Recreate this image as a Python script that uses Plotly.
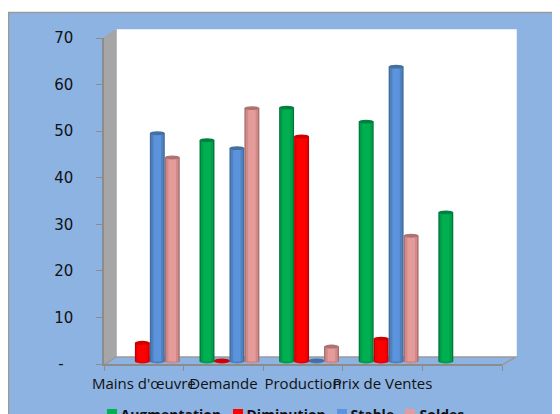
import plotly.graph_objects as go

# Values
categories = ["Mains d'œuvre", "Demande", "Production", "Prix de Ventes", ""]
augmentation = [None, 47.5, 54.5, 51.5, 32.0]
diminution = [4.0, 0.2, 48.3, 4.9, None]
stable = [49.0, 45.8, 0.2, 63.3, None]
soldes = [43.8, 54.4, 3.2, 27.0, None]
y_ticks = [0, 10, 20, 30, 40, 50, 60, 70]
y_tick_labels = ["-\u00a0\u00a0", "10", "20", "30", "40", "50", "60", "70"]

# the page body adds 8px around the figure, so coordinates below are window pixels
OFFSET = 8
W, H = 560 - OFFSET, 414 - OFFSET
# plot area in window pixels
L, R, T, B = 104, 502, 38, 364

FRAME = "#8DB3E2"
WALL_SIDE = "#A6A6A6"
AXIS_LINE = "#8C8C8C"
TEXT = "#111111"

# name, values, colors from the cylinder edge to its centre, cap color,
# legend left edge, legend square left edge
series = [
    ("Augmentation", augmentation, ["#007A3A", "#00A04A", "#00B050"], "#008040", 90.5, 107),
    ("Diminution", diminution, ["#C00000", "#F00000", "#FF0000"], "#D00000", 216.5, 233),
    ("Stable", stable, ["#3F6CA3", "#4F81BD", "#5B93DC"], "#44709F", 320.5, 337),
    ("Soldes", soldes, ["#A86F6F", "#D08A8A", "#E69B9B"], "#AD7272", 389.5, 405),
]

BAR_W = 0.188
GROUP_START = 0.2
FLOOR = 0.55  # bars stand a little behind the front axis line
CAP = 0.42


def px(x):
    return (x - L) / (R - L)


def py(y):
    return (B - y) / (B - T)


def poly(points, fill, line=None):
    path = "M " + " L ".join(f"{px(x):.4f},{py(y):.4f}" for x, y in points) + " Z"
    return dict(type="path", xref="paper", yref="paper", path=path, fillcolor=fill,
                line=dict(color=line or fill, width=1.5), layer="below")


fig = go.Figure()
shapes = [
    # frame
    dict(type="rect", xref="paper", yref="paper", x0=px(8.5), x1=px(570), y0=py(12.5), y1=py(424),
         fillcolor=FRAME, line=dict(color="#9A9A9A", width=1.5), layer="below"),
    # back wall, side wall and floor of the fake 3D box
    poly([(116, 30), (516, 30), (516, 357), (116, 357)], "#FFFFFF"),
    poly([(104, 38), (116, 30), (116, 357), (104, 365)], WALL_SIDE),
    poly([(104, 365), (116, 357), (516, 357), (502, 365)], FRAME, "#9A9A9A"),
]

legends = {}
for j, (name, values, shades, cap, legend_x, square_x) in enumerate(series):
    # one small legend per series, the entries are not evenly spaced in the reference
    legend_id = "legend" if j == 0 else f"legend{j + 1}"
    legends[legend_id] = dict(
        orientation="h",
        xanchor="left",
        x=px(legend_x),
        yanchor="top",
        y=py(399),
        indentation=-10,
        bgcolor="rgba(0,0,0,0)",
        font=dict(family="Open Sans", size=14, color=TEXT, weight="bold"),
    )
    # plotly keeps its legend symbol too far from the text, so the entry gets a
    # clear symbol and the coloured square is a shape
    fig.add_trace(go.Bar(
        x=[None], y=[None], name=name, legend=legend_id,
        marker=dict(color="rgba(0,0,0,0)", line_width=0),
    ))
    shapes.append(dict(type="rect", xref="paper", yref="paper", x0=px(square_x), x1=px(square_x + 10),
                       y0=py(409), y1=py(419), fillcolor=shades[2], line_width=0))

    xs = [i + GROUP_START + BAR_W * (j + 0.5) for i in range(len(categories))]
    for frac, color in zip([1.0, 0.82, 0.5], shades):
        fig.add_trace(go.Bar(
            x=xs,
            y=values,
            base=FLOOR,
            width=BAR_W * frac,
            name=name,
            marker=dict(color=color, line_width=0),
            showlegend=False,
            hovertemplate=name + ": %{y}<extra></extra>",
        ))
    for x, v in zip(xs, values):
        if v is None:
            continue
        half = BAR_W / 2
        # rounded foot and top of the cylinder
        shapes.append(dict(type="circle", xref="x", yref="y", x0=x - half, x1=x + half,
                           y0=FLOOR - CAP, y1=FLOOR + CAP, fillcolor=shades[1], line_width=0, layer="below"))
        shapes.append(dict(type="circle", xref="x", yref="y", x0=x - half, x1=x + half,
                           y0=v + FLOOR - CAP, y1=v + FLOOR + CAP, fillcolor=cap, line_width=0))

fig.update_layout(
    width=W,
    height=H,
    barmode="overlay",
    showlegend=True,
    paper_bgcolor="#FFFFFF",
    plot_bgcolor="rgba(0,0,0,0)",
    margin=dict(l=L - OFFSET, r=560 - R, t=T - OFFSET, b=414 - B, pad=0, autoexpand=False),
    shapes=shapes,
    xaxis=dict(
        range=[0, len(categories)],
        tickmode="array",
        tickvals=[i + 0.5 for i in range(len(categories))],
        ticktext=categories,
        ticks="",
        tickangle=0,
        showgrid=False,
        zeroline=False,
        showline=True,
        linecolor=AXIS_LINE,
        linewidth=2,
        ticklabelstandoff=5,
        tickfont=dict(family="Open Sans", size=15, color=TEXT),
        minor=dict(tickmode="array", tickvals=list(range(len(categories) + 1)), ticks="outside",
                   ticklen=5, tickcolor=AXIS_LINE, showgrid=False),
    ),
    yaxis=dict(
        range=[0, 70],
        tickmode="array",
        tickvals=y_ticks,
        ticktext=y_tick_labels,
        ticks="outside",
        ticklen=6,
        tickcolor=AXIS_LINE,
        showgrid=False,
        zeroline=False,
        showline=True,
        linecolor=AXIS_LINE,
        linewidth=1.5,
        ticklabelstandoff=20,
        tickfont=dict(family="DejaVu Sans", size=15, color=TEXT),
    ),
    **legends,
)

fig.write_html("out.html")
